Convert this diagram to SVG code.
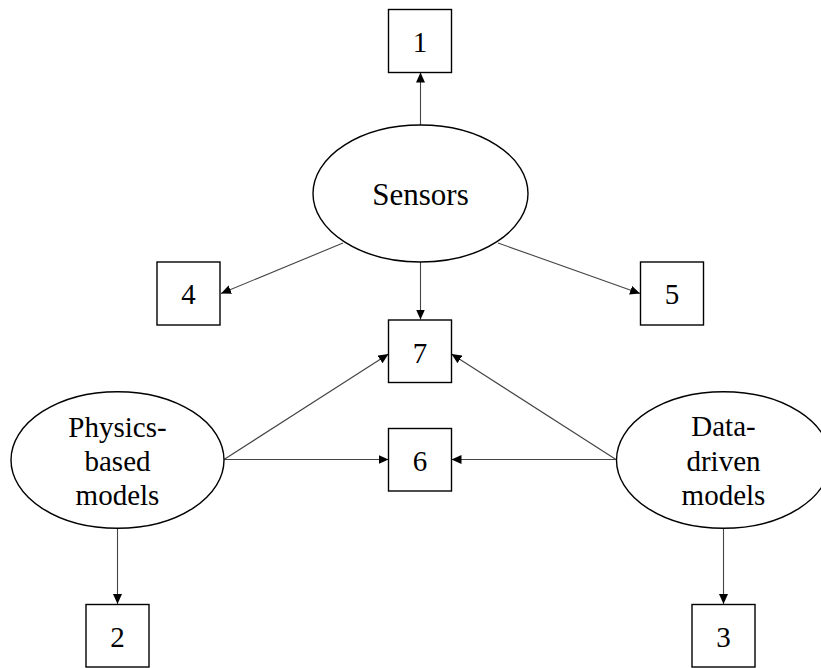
<svg xmlns="http://www.w3.org/2000/svg" width="821" height="668" viewBox="0 0 821 668">
  <style>
    .box { fill: #ffffff; stroke: #000000; stroke-width: 1.4; }
    .oval { fill: #ffffff; stroke: #000000; stroke-width: 1.4; }
    .num { font-family: "Liberation Serif", "Times New Roman", serif; font-size: 29px; fill: #000000; text-anchor: middle; }
    .lbl { font-family: "Liberation Serif", "Times New Roman", serif; font-size: 29px; fill: #000000; text-anchor: middle; }
    .big { font-size: 31px; }
    .edge { fill: none; stroke: #444444; stroke-width: 1.1; marker-end: url(#arrow); }
  </style>
  <defs>
    <marker id="arrow" markerUnits="userSpaceOnUse" markerWidth="11" markerHeight="10" refX="10" refY="4.5" orient="auto">
      <path d="M0,0 L10,4.5 L0,9 Z" fill="#000000"/>
    </marker>
  </defs>

  <!-- connectors -->
  <g id="edges">
    <line class="edge" x1="420.5" y1="125" x2="420.5" y2="72.5"/>
    <line class="edge" x1="343" y1="243" x2="221" y2="293.5"/>
    <line class="edge" x1="498" y1="243" x2="640" y2="293.5"/>
    <line class="edge" x1="420.5" y1="262" x2="420.5" y2="319.5"/>
    <line class="edge" x1="224" y1="459.5" x2="388.5" y2="354"/>
    <line class="edge" x1="224" y1="459.5" x2="388.5" y2="459.5"/>
    <line class="edge" x1="616" y1="459.5" x2="451.5" y2="354"/>
    <line class="edge" x1="616" y1="459.5" x2="451.5" y2="459.5"/>
    <line class="edge" x1="117.5" y1="528.5" x2="117.5" y2="604"/>
    <line class="edge" x1="723.5" y1="528.5" x2="723.5" y2="604"/>
  </g>

  <!-- ellipse nodes -->
  <g id="sensors">
    <ellipse class="oval" cx="420.5" cy="193.5" rx="107.5" ry="68.5"/>
    <text class="lbl big" x="420.5" y="205">Sensors</text>
  </g>
  <g id="physics-based-models">
    <ellipse class="oval" cx="117.5" cy="460" rx="106.5" ry="68.3"/>
    <text class="lbl" x="117.5" y="437">Physics-</text>
    <text class="lbl" x="117.5" y="471">based</text>
    <text class="lbl" x="117.5" y="505">models</text>
  </g>
  <g id="data-driven-models">
    <ellipse class="oval" cx="723.5" cy="460" rx="107" ry="68.3"/>
    <text class="lbl" x="723.5" y="436">Data-</text>
    <text class="lbl" x="723.5" y="470.5">driven</text>
    <text class="lbl" x="723.5" y="505">models</text>
  </g>

  <!-- numbered boxes -->
  <g id="box1">
    <rect class="box" x="388.5" y="9.5" width="63" height="63"/>
    <text class="num" x="420" y="52">1</text>
  </g>
  <g id="box4">
    <rect class="box" x="157" y="262" width="63" height="63"/>
    <text class="num" x="188.5" y="304">4</text>
  </g>
  <g id="box5">
    <rect class="box" x="640.5" y="262" width="63" height="63"/>
    <text class="num" x="672" y="304">5</text>
  </g>
  <g id="box7">
    <rect class="box" x="388.5" y="320" width="63" height="62.5"/>
    <text class="num" x="420" y="362.5">7</text>
  </g>
  <g id="box6">
    <rect class="box" x="388.5" y="428.5" width="63" height="62.5"/>
    <text class="num" x="420" y="470.5">6</text>
  </g>
  <g id="box2">
    <rect class="box" x="86" y="604.5" width="63" height="62.5"/>
    <text class="num" x="117.5" y="646.5">2</text>
  </g>
  <g id="box3">
    <rect class="box" x="692" y="604.5" width="63" height="62.5"/>
    <text class="num" x="723.5" y="646.5">3</text>
  </g>
</svg>
